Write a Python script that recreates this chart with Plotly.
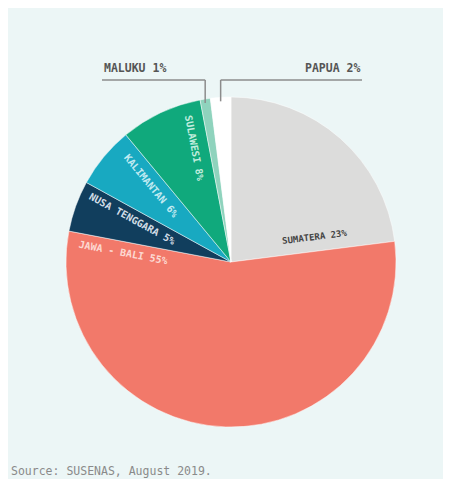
import math
import plotly.graph_objects as go

# ---- data ----
regions = ["SUMATERA", "JAWA - BALI", "NUSA TENGGARA", "KALIMANTAN", "SULAWESI", "MALUKU", "PAPUA"]
shares = [23, 55, 5, 6, 8, 1, 2]
colors = ["#dcdcdb", "#f2796a", "#113e5d", "#18a9c1", "#10a97c", "#8fd3bd", "#ffffff"]
source_text = "Source: SUSENAS, August 2019."

# ---- layout config (screen pixels; page body has an 8px margin) ----
OFF = 8
W, H = 451 - OFF, 479 - OFF
CX, CY, R = 231, 262, 165  # pie centre / radius in screen px
FONT = "DejaVu Sans Mono"

# inside labels: index -> (distance along end boundary, perpendicular offset, colour, size)
inside_cfg = {
    0: (86, 14, "#444444", 9),
    1: (108, 11, "rgba(255,235,230,0.85)", 10),
    2: (108, 10, "rgba(235,242,250,0.9)", 10),
    3: (110, 13, "rgba(225,248,252,0.85)", 10),
    4: (119, 15, "rgba(225,250,240,0.85)", 10),
}
# outside call-outs: index -> (label x px, side)
callout_cfg = {5: (102, "left"), 6: (362, "right")}
CALLOUT_Y_TEXT = 68
CALLOUT_Y_LINE = 80


def px2paper(x, y):
    return (x - OFF) / W, 1 - (y - OFF) / H


fig = go.Figure()
dx0, dy0 = px2paper(CX - R, CY + R)
dx1, dy1 = px2paper(CX + R, CY - R)
fig.add_trace(go.Pie(
    labels=regions, values=shares, sort=False, direction="clockwise", rotation=0,
    marker=dict(colors=colors, line=dict(color="rgba(255,255,255,0.6)", width=0.8)),
    textinfo="none", hoverinfo="label+percent", showlegend=False,
    domain=dict(x=[dx0, dx1], y=[dy0, dy1]),
))

total = sum(shares)
cum = 0
starts, ends = [], []
for v in shares:
    starts.append(360 * cum / total)
    cum += v
    ends.append(360 * cum / total)

annotations = []
shapes = []

for i, (along, perp, col, size) in inside_cfg.items():
    th = math.radians(ends[i])
    ux, uy = math.sin(th), -math.cos(th)
    px_, py_ = -math.cos(th), -math.sin(th)
    x = CX + along * ux + perp * px_
    y = CY + along * uy + perp * py_
    ang = ends[i] - 270 if ends[i] > 180 else ends[i] - 90
    xp, yp = px2paper(x, y)
    annotations.append(dict(
        x=xp, y=yp, xref="paper", yref="paper", showarrow=False,
        text=f"<b>{regions[i]} {shares[i]}%</b>", textangle=ang,
        xanchor="center", yanchor="middle",
        font=dict(family=FONT, size=size, color=col),
    ))

for i, (lx, side) in callout_cfg.items():
    mid = math.radians((starts[i] + ends[i]) / 2)
    ex = CX + R * math.sin(mid)
    ey = CY - R * math.cos(mid) + 4
    x0p, y0p = px2paper(ex, CALLOUT_Y_LINE)
    x1p, y1p = px2paper(ex, ey)
    lxp, _ = px2paper(lx, OFF)
    shapes.append(dict(type="line", xref="paper", yref="paper", x0=x0p, y0=y0p, x1=x1p, y1=y1p,
                       line=dict(color="#8c8c8c", width=1.5)))
    shapes.append(dict(type="line", xref="paper", yref="paper", x0=lxp, y0=y0p, x1=x0p, y1=y0p,
                       line=dict(color="#8c8c8c", width=1.5)))
    tx, ty = px2paper(lx, CALLOUT_Y_TEXT)
    annotations.append(dict(
        x=tx, y=ty, xref="paper", yref="paper", showarrow=False,
        text=f"<b>{regions[i]} {shares[i]}%</b>",
        xanchor=side, yanchor="middle",
        font=dict(family=FONT, size=11.5, color="#555555"),
    ))

sx, sy = px2paper(9, 471)
annotations.append(dict(
    x=sx, y=sy, xref="paper", yref="paper", showarrow=False, text=source_text,
    xanchor="left", yanchor="middle",
    font=dict(family=FONT, size=11.5, color="#8a8a8a"),
))

fig.update_layout(
    width=W, height=H, margin=dict(l=0, r=0, t=0, b=0),
    paper_bgcolor="#ecf6f6", plot_bgcolor="#ecf6f6",
    annotations=annotations, shapes=shapes,
)

fig.write_html("out.html")
